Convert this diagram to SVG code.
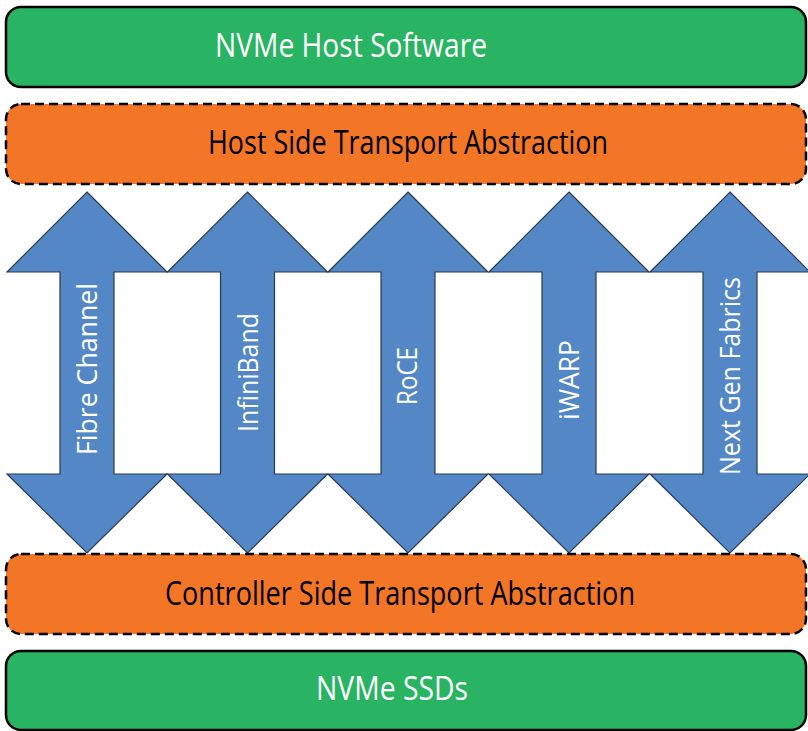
<svg xmlns="http://www.w3.org/2000/svg" width="808" height="731" viewBox="0 0 808 731">
<style>
.green{fill:#28B463;stroke:#000;stroke-width:2.5}
.orange{fill:#F37526;stroke:#000;stroke-width:2.5;stroke-dasharray:9 5}
.arrow{fill:#5387C6;stroke:#2a3a50;stroke-width:1.2;stroke-linejoin:miter}
.t{font-family:"Open Sans","Noto Sans",sans-serif;font-size:32px}
.w{fill:#fff}
.k{fill:#000}
.v{font-family:"Open Sans","Noto Sans",sans-serif;font-size:28px;fill:#fff}
</style>
<rect width="808" height="731" fill="#fff"/>
<g id="connectors">
<g id="arrow-fc"><path class="arrow" d="M87,192 L167,272 L114,272 L114,474 L167,474 L87,553 L7,474 L60,474 L60,272 L7,272 Z"/><text class="v" transform="translate(97,369) rotate(-90)" text-anchor="middle" textLength="172" lengthAdjust="spacingAndGlyphs">Fibre Channel</text></g>
<g id="arrow-ib"><path class="arrow" d="M247.5,192 L327.5,272 L274.5,272 L274.5,474 L327.5,474 L247.5,553 L167.5,474 L220.5,474 L220.5,272 L167.5,272 Z"/><text class="v" transform="translate(258,372.5) rotate(-90)" text-anchor="middle" textLength="119" lengthAdjust="spacingAndGlyphs">InfiniBand</text></g>
<g id="arrow-roce"><path class="arrow" d="M408,192 L488,272 L435,272 L435,474 L488,474 L408,553 L328,474 L381,474 L381,272 L328,272 Z"/><text class="v" transform="translate(417,376) rotate(-90)" text-anchor="middle" textLength="58" lengthAdjust="spacingAndGlyphs">RoCE</text></g>
<g id="arrow-iwarp"><path class="arrow" d="M569,192 L649,272 L596,272 L596,474 L649,474 L569,553 L489,474 L542,474 L542,272 L489,272 Z"/><text class="v" transform="translate(579,380) rotate(-90)" text-anchor="middle" textLength="80" lengthAdjust="spacingAndGlyphs">iWARP</text></g>
<g id="arrow-ngf"><path class="arrow" d="M730,192 L810,272 L757,272 L757,474 L810,474 L730,553 L650,474 L703,474 L703,272 L650,272 Z"/><text class="v" transform="translate(740,376) rotate(-90)" text-anchor="middle" textLength="198" lengthAdjust="spacingAndGlyphs">Next Gen Fabrics</text></g>
</g>
<g id="host-software"><rect class="green" x="6" y="7" width="800" height="80" rx="15"/><text class="t w" x="351" y="57" text-anchor="middle" textLength="272" lengthAdjust="spacingAndGlyphs">NVMe Host Software</text></g>
<g id="host-transport"><rect class="orange" x="6" y="104" width="800" height="80" rx="15"/><text class="t k" x="408" y="154" text-anchor="middle" textLength="400" lengthAdjust="spacingAndGlyphs">Host Side Transport Abstraction</text></g>
<g id="controller-transport"><rect class="orange" x="6" y="554" width="800" height="80" rx="15"/><text class="t k" x="400" y="605" text-anchor="middle" textLength="470" lengthAdjust="spacingAndGlyphs">Controller Side Transport Abstraction</text></g>
<g id="ssds"><rect class="green" x="6" y="651" width="800" height="79" rx="15"/><text class="t w" x="392" y="700" text-anchor="middle" textLength="152" lengthAdjust="spacingAndGlyphs">NVMe SSDs</text></g>
</svg>
